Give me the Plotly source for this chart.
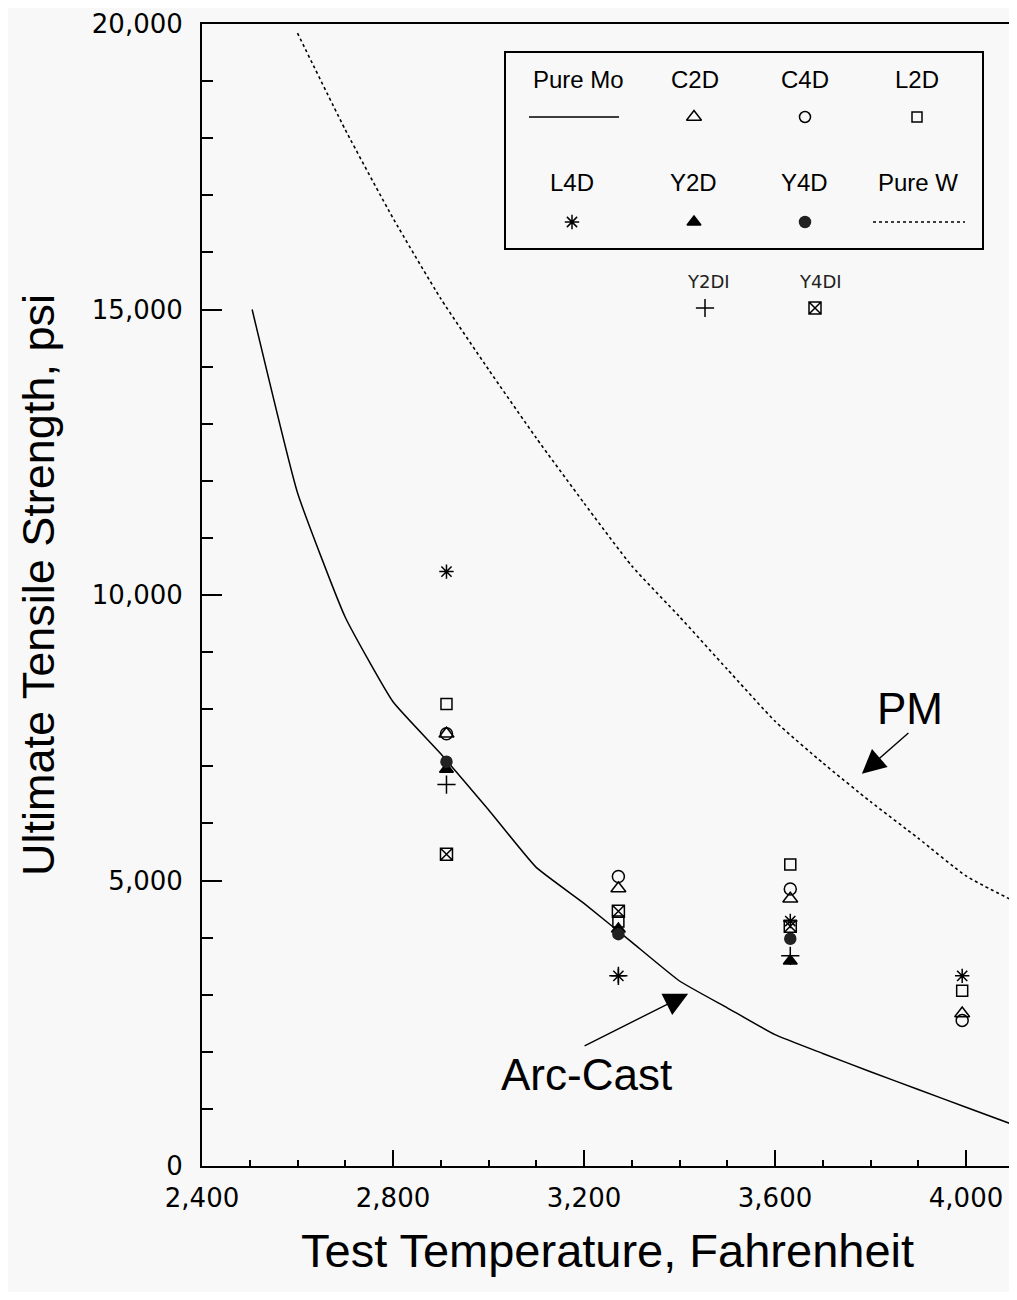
import plotly.graph_objects as go

# ---------------- data ----------------
temps = [2912, 3272, 3632, 3992]
c2d = [7570, 4860, 4680, 2670]
c4d = [7570, 5070, 4850, 2550]
l2d = [8090, 4280, 5280, 3070]
l4d = [10410, 3330, 4290, 3330]
y2d = [6950, 4150, 3590, None]
y4d = [7080, 4060, 3980, None]
y2di = [6680, 3330, 3680, None]
y4di = [5460, 4460, 4200, None]

mo_t = [2505, 2600, 2700, 2800, 2900, 3000, 3100, 3200, 3300, 3400, 3500, 3600, 3700, 3800, 3900, 4000, 4100]
mo_v = [15000, 11790, 9610, 8130, 7220, 6240, 5230, 4600, 3920, 3240, 2770, 2300, 1970, 1650, 1340, 1030, 720]
w_t = [2600, 2700, 2800, 2900, 3000, 3100, 3200, 3300, 3400, 3500, 3600, 3700, 3800, 3900, 4000, 4100]
w_v = [19840, 18150, 16600, 15190, 13950, 12750, 11610, 10510, 9620, 8700, 7790, 7060, 6380, 5740, 5080, 4640]

x_ticks = [2400, 2800, 3200, 3600, 4000]
x_tick_text = ["2,400", "2,800", "3,200", "3,600", "4,000"]
y_ticks = [0, 5000, 10000, 15000, 20000]
y_tick_text = ["0", "5,000", "10,000", "15,000", "20,000"]

leg_names = ["Pure Mo", "C2D", "C4D", "L2D", "L4D", "Y2D", "Y4D", "Pure W"]

# ---------------- page geometry (page pixels; body has 8px margin) ----------------
PAGE_OFF = 8
W, H = 1001, 1284
PL, PR, PT, PB = 202, 1009, 24, 1166   # plot area in page pixels
PW, PH = PR - PL, PB - PT


def px(x):
    return (x - PL) / PW


def py(y):
    return (PB - y) / PH


BG = "#f7f8f7"
TXT = "Liberation Sans, Arial, sans-serif"
TICKF = "DejaVu Sans, Verdana, sans-serif"

fig = go.Figure()

fig.add_trace(go.Scatter(x=w_t, y=w_v, mode="lines",
                         line=dict(color="black", width=1.6, dash="dot", shape="spline", smoothing=0.5),
                         showlegend=False))
fig.add_trace(go.Scatter(x=mo_t, y=mo_v, mode="lines",
                         line=dict(color="black", width=1.5, shape="spline", smoothing=0.4),
                         showlegend=False))

series = [
    (c2d, "triangle-up-open", 13, "black"),
    (c4d, "circle-open", 12, "black"),
    (l2d, "square-open", 11, "black"),
    (l4d, "asterisk-open", 12, "black"),
    (y2d, "triangle-up", 12, "black"),
    (y4d, "circle", 11, "#222"),
    (y2di, "cross-thin-open", 13, "black"),
    (y4di, "square-x-open", 12, "black"),
]
for vals, sym, sz, col in series:
    fig.add_trace(go.Scatter(x=temps, y=vals, mode="markers",
                             marker=dict(symbol=sym, size=sz, color=col,
                                         line=dict(color=col, width=1.5)),
                             showlegend=False))

# ---- custom legend drawn on an overlay axis pair (0..1 over plot area) ----
leg_sym = [
    (694, 117, "triangle-up-open", 13, "black"),
    (805, 117, "circle-open", 11, "black"),
    (917, 117, "square-open", 10, "black"),
    (572, 222, "asterisk-open", 12, "black"),
    (694, 222, "triangle-up", 12, "black"),
    (805, 222, "circle", 11, "#222"),
    (705, 308, "cross-thin-open", 13, "black"),
    (815, 308, "square-x-open", 12, "black"),
]
for lx, ly, sym, sz, col in leg_sym:
    fig.add_trace(go.Scatter(x=[px(lx)], y=[py(ly)], xaxis="x2", yaxis="y2", mode="markers",
                             marker=dict(symbol=sym, size=sz, color=col,
                                         line=dict(color=col, width=1.5)),
                             showlegend=False, hoverinfo="skip"))
fig.add_trace(go.Scatter(x=[px(529), px(619)], y=[py(117), py(117)], xaxis="x2", yaxis="y2",
                         mode="lines", line=dict(color="black", width=1.5),
                         showlegend=False, hoverinfo="skip"))
fig.add_trace(go.Scatter(x=[px(873), px(965)], y=[py(222), py(222)], xaxis="x2", yaxis="y2",
                         mode="lines", line=dict(color="black", width=1.6, dash="dot"),
                         showlegend=False, hoverinfo="skip"))

leg_text_pos = [(578, 80), (695, 80), (805, 80), (917, 80),
                (572, 182), (693, 182), (804, 182), (918, 182)]
annotations = []
for name, (tx, ty) in zip(leg_names, leg_text_pos):
    annotations.append(dict(x=px(tx), y=py(ty), xref="paper", yref="paper", text=name,
                            showarrow=False, font=dict(family=TXT, size=24, color="black"),
                            xanchor="center", yanchor="middle"))
for name, tx in [("Y2DI", 708), ("Y4DI", 820)]:
    annotations.append(dict(x=px(tx), y=py(281), xref="paper", yref="paper", text=name,
                            showarrow=False, font=dict(family=TICKF, size=18, color="#222"),
                            xanchor="center", yanchor="middle"))

# axis titles
annotations.append(dict(x=px(38), y=py(585), xref="paper", yref="paper",
                        text="Ultimate Tensile Strength, psi", textangle=-90,
                        showarrow=False, font=dict(family=TXT, size=45, color="black"),
                        xanchor="center", yanchor="middle"))
annotations.append(dict(x=px(607), y=py(1250), xref="paper", yref="paper",
                        text="Test Temperature, Fahrenheit",
                        showarrow=False, font=dict(family=TXT, size=47, color="black"),
                        xanchor="center", yanchor="middle"))

# callouts
annotations.append(dict(x=3782, y=6870, ax=48, ay=-42, text="", showarrow=True,
                        arrowhead=2, arrowsize=3.4, arrowwidth=1.4, arrowcolor="black"))
annotations.append(dict(x=3883, y=8020, text="PM", showarrow=False,
                        font=dict(family=TXT, size=44, color="black")))
annotations.append(dict(x=3418, y=3017, ax=-105, ay=53, text="", showarrow=True,
                        arrowhead=2, arrowsize=3.4, arrowwidth=1.4, arrowcolor="black"))
annotations.append(dict(x=3206, y=1604, text="Arc-Cast", showarrow=False,
                        font=dict(family=TXT, size=44, color="black")))

x_max = 2400 + PW / 0.4775

fig.update_layout(
    width=W, height=H,
    margin=dict(l=PL - PAGE_OFF, r=W - (PR - PAGE_OFF), t=PT - PAGE_OFF, b=H - (PB - PAGE_OFF)),
    paper_bgcolor=BG, plot_bgcolor=BG,
    showlegend=False,
    annotations=annotations,
    shapes=[dict(type="rect", xref="paper", yref="paper",
                 x0=px(505), x1=px(983), y0=py(249), y1=py(52),
                 line=dict(color="black", width=2))],
    xaxis=dict(range=[2400, x_max], showgrid=False, zeroline=False, automargin=False,
               showline=True, linecolor="black", linewidth=2, mirror=True,
               tickvals=x_ticks, ticktext=x_tick_text,
               ticks="inside", ticklen=16, tickwidth=2, tickcolor="black",
               minor=dict(ticks="inside", ticklen=6, tickwidth=1.5, dtick=100,
                          tick0=2400, tickcolor="black", showgrid=False),
               tickfont=dict(family=TICKF, size=26, color="black"),
               ticklabelstandoff=8, ticklabeloverflow="allow"),
    yaxis=dict(range=[0, 20000], showgrid=False, zeroline=False, automargin=False,
               showline=True, linecolor="black", linewidth=2,
               tickvals=y_ticks, ticktext=y_tick_text,
               ticks="inside", ticklen=20, tickwidth=2, tickcolor="black",
               minor=dict(ticks="inside", ticklen=11, tickwidth=1.5, dtick=1000,
                          tick0=0, tickcolor="black", showgrid=False),
               tickfont=dict(family=TICKF, size=26, color="black"),
               ticklabelstandoff=12, ticklabeloverflow="allow"),
    xaxis2=dict(range=[0, 1], overlaying="x", visible=False, fixedrange=True),
    yaxis2=dict(range=[0, 1], overlaying="y", visible=False, fixedrange=True),
)

fig.write_html("out.html")
